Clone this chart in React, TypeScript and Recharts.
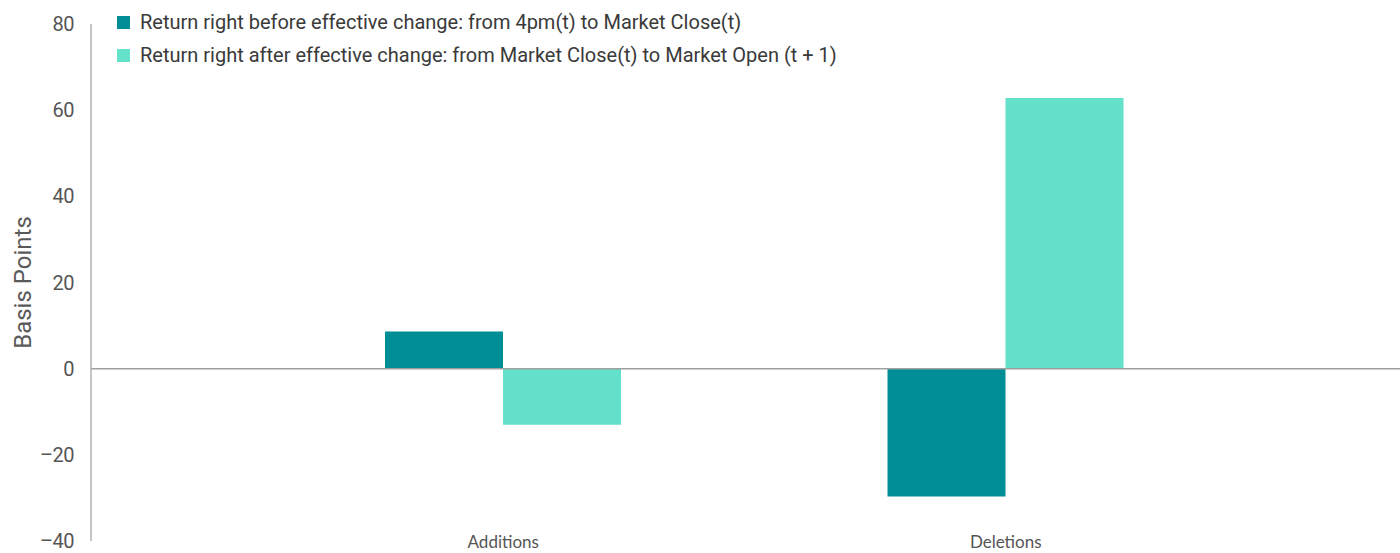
import { BarChart, Bar, XAxis, YAxis, ReferenceLine } from 'recharts'

// Returns around the effective index change, in basis points.
const CATEGORIES = ['Additions', 'Deletions']
const BEFORE = [8.6, -29.7]
const AFTER = [-13, 62.8]
const Y_TICKS = [-40, -20, 0, 20, 40, 60, 80]

const SERIES = [
  { key: 'before', name: 'Return right before effective change: from 4pm(t) to Market Close(t)', color: '#008E96' },
  { key: 'after', name: 'Return right after effective change: from Market Close(t) to Market Open (t + 1)', color: '#63E1CA' },
]

const DATA = CATEGORIES.map((c, i) => ({ name: c, before: BEFORE[i], after: AFTER[i] }))

const NARROW = 'Roboto, sans-serif'

// legend drawn as a plain overlay so it doesn't push the plot down
function LegendBox() {
  return (
    <div
      style={{
        position: 'absolute',
        left: 117,
        top: 6,
        fontFamily: NARROW,
        fontSize: 20,
        color: '#3a3a3a',
        lineHeight: '33px',
      }}
    >
      {SERIES.map((s) => (
        <div key={s.key} style={{ display: 'flex', alignItems: 'center' }}>
          <span style={{ width: 13, height: 13, background: s.color, marginRight: 10, display: 'inline-block' }} />
          <span>{s.name}</span>
        </div>
      ))}
    </div>
  )
}

function XTick({ x, payload }: any) {
  return (
    <text x={x} y={548} textAnchor="middle" fill="#555" fontSize={17} fontFamily="Lato, sans-serif">
      {payload.value}
    </text>
  )
}

export default function App() {
  return (
    <div style={{ position: 'absolute', left: 0, top: 0, background: '#fff' }}>
      <BarChart
        width={1400}
        height={553}
        data={DATA}
        margin={{ top: 24, right: 0, left: 0, bottom: 0 }}
        barSize={118}
        barGap={0}
      >
        <XAxis
          dataKey="name"
          axisLine={false}
          tickLine={false}
          height={12}
          padding={{ left: 161, right: 143 }}
          tick={<XTick />}
          interval={0}
        />
        <YAxis
          domain={[-40, 80]}
          ticks={Y_TICKS}
          width={91}
          axisLine={{ stroke: '#b0b0b0', strokeWidth: 1.5 }}
          tickLine={false}
          tickMargin={11}
          tickFormatter={(v) => String(v).replace('-', '\u2013')}
          tick={{ fill: '#555', fontSize: 20, fontFamily: NARROW, letterSpacing: -0.5 }}
          label={{
            value: 'Basis Points',
            angle: -90,
            position: 'insideLeft',
            offset: 22,
            style: { fill: '#5a5a5a', fontSize: 24, fontFamily: 'Roboto, sans-serif', textAnchor: 'middle' },
          }}
        />
        <ReferenceLine y={0} stroke="#a0a0a0" strokeWidth={1.5} />
        {SERIES.map((s) => (
          <Bar key={s.key} dataKey={s.key} name={s.name} fill={s.color} isAnimationActive={false} />
        ))}
      </BarChart>
      <LegendBox />
    </div>
  )
}
